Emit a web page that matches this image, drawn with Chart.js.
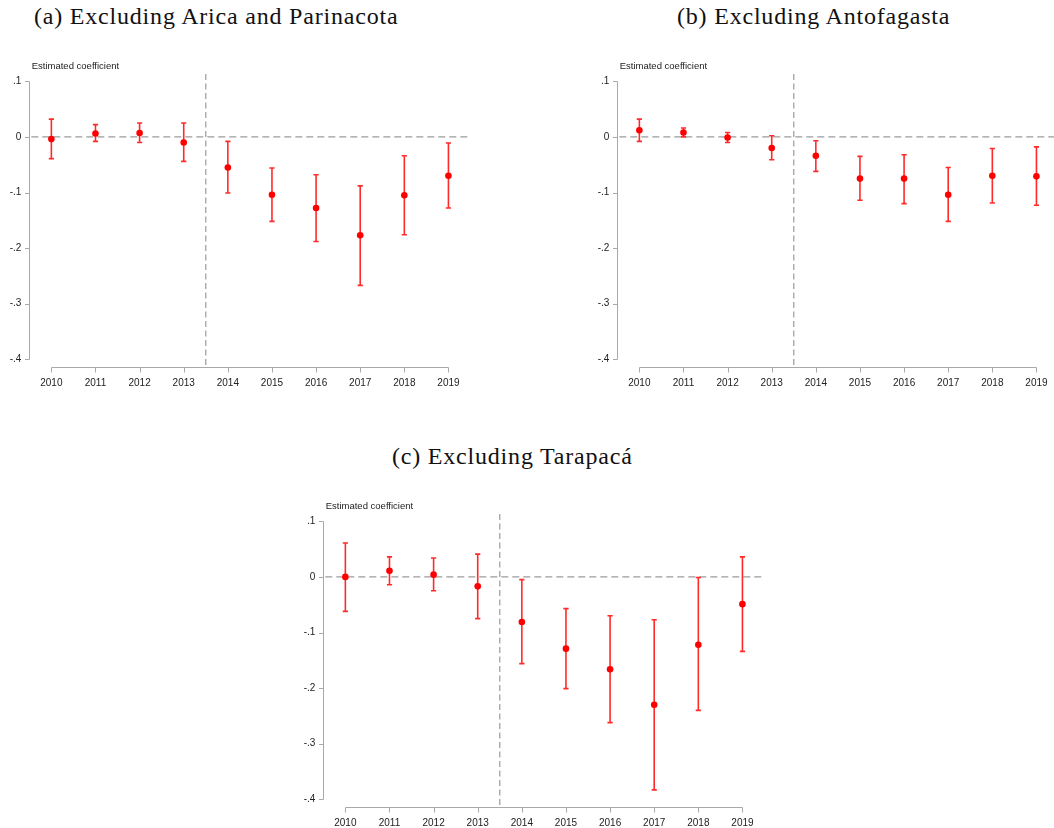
<!DOCTYPE html>
<html>
<head>
<meta charset="utf-8">
<script src="https://cdn.jsdelivr.net/npm/chart.js@4.4.1/dist/chart.umd.min.js"></script>
<style>
  html, body { margin: 0; padding: 0; background: #fff; overflow: hidden; width: 1054px; height: 828px; }
  .panel { position: absolute; width: 480px; height: 330px; }
  .title { position: absolute; font-family: "Liberation Serif", "Times New Roman", serif; font-size: 24px;
           letter-spacing: 0.8px; color: #111; white-space: nowrap; line-height: 24px; }
</style>
</head>
<body>
<div class="title" style="left:34px; top:4px;">(a) Excluding Arica and Parinacota</div>
<div class="title" style="left:677px; top:4px;">(b) Excluding Antofagasta</div>
<div class="title" style="left:392px; top:444px;">(c) Excluding Tarapacá</div>

<div class="panel" style="left:0px; top:60px;"><canvas id="chartA" width="480" height="330"></canvas></div>
<div class="panel" style="left:588px; top:60px;"><canvas id="chartB" width="480" height="330"></canvas></div>
<div class="panel" style="left:294px; top:500px;"><canvas id="chartC" width="480" height="330"></canvas></div>

<script>
// Event-study years and y-axis ticks
const years = [2010, 2011, 2012, 2013, 2014, 2015, 2016, 2017, 2018, 2019];
const yTicks = [0.1, 0, -0.1, -0.2, -0.3, -0.4];
const policyBreak = 2013.5;
const yAxisTitle = 'Estimated coefficient';

// (a) Excluding Arica and Parinacota
const coefA = [-0.004, 0.006, 0.007, -0.010, -0.055, -0.104, -0.128, -0.177, -0.105, -0.070];
const lowA  = [-0.039, -0.008, -0.010, -0.044, -0.101, -0.152, -0.188, -0.267, -0.176, -0.128];
const highA = [0.032, 0.022, 0.025, 0.025, -0.008, -0.056, -0.068, -0.088, -0.034, -0.011];

// (b) Excluding Antofagasta
const coefB = [0.012, 0.008, -0.001, -0.020, -0.034, -0.075, -0.075, -0.104, -0.070, -0.071];
const lowB  = [-0.008, 0.000, -0.010, -0.041, -0.062, -0.114, -0.120, -0.152, -0.119, -0.123];
const highB = [0.032, 0.016, 0.008, 0.002, -0.007, -0.035, -0.032, -0.055, -0.021, -0.018];

// (c) Excluding Tarapacá
const coefC = [0.000, 0.011, 0.004, -0.017, -0.081, -0.129, -0.166, -0.230, -0.122, -0.049];
const lowC  = [-0.062, -0.014, -0.025, -0.075, -0.156, -0.201, -0.262, -0.383, -0.240, -0.134];
const highC = [0.061, 0.036, 0.034, 0.041, -0.005, -0.057, -0.070, -0.077, -0.001, 0.036];

const AXIS_GRAY = '#a9a9a9';
const REF_GRAY = '#9c9c9c';
const RED = '#ff0000';

function fmtTick(v) {
  const n = Math.round(v * 10);
  if (n === 0) return '0';
  return (n < 0 ? '-' : '') + '.' + Math.abs(n);
}

// Draws the Stata-style detached axes, reference lines, CI whiskers and axis title
const stataPlot = {
  id: 'stataPlot',
  beforeDatasetsDraw(chart, args, opts) {
    const { ctx, chartArea: a, scales: { x, y } } = chart;
    ctx.save();

    // y axis line and ticks
    const ax = Math.round(a.left) + 0.5;
    const yTop = y.getPixelForValue(yTicks[0]);
    const yBot = y.getPixelForValue(yTicks[yTicks.length - 1]);
    ctx.strokeStyle = AXIS_GRAY;
    ctx.lineWidth = 1;
    ctx.setLineDash([]);
    ctx.beginPath();
    ctx.moveTo(ax, Math.round(yTop) + 0.5);
    ctx.lineTo(ax, Math.round(yBot) + 0.5);
    yTicks.forEach(v => {
      const py = Math.round(y.getPixelForValue(v)) + 0.5;
      ctx.moveTo(ax - 4.5, py);
      ctx.lineTo(ax, py);
    });
    ctx.stroke();

    // x axis line and ticks
    const ay = Math.round(a.bottom) + 0.5;
    const x0 = x.getPixelForValue(years[0]);
    const x1 = x.getPixelForValue(years[years.length - 1]);
    ctx.beginPath();
    ctx.moveTo(Math.round(x0) + 0.5, ay);
    ctx.lineTo(Math.round(x1) + 0.5, ay);
    years.forEach(v => {
      const px = Math.round(x.getPixelForValue(v)) + 0.5;
      ctx.moveTo(px, ay);
      ctx.lineTo(px, ay + 5);
    });
    ctx.stroke();

    // zero reference line
    ctx.strokeStyle = REF_GRAY;
    ctx.lineWidth = 1.2;
    ctx.setLineDash([7, 4]);
    const zy = y.getPixelForValue(0);
    ctx.beginPath();
    ctx.moveTo(a.left + 2, zy);
    ctx.lineTo(a.right, zy);
    ctx.stroke();

    // policy break line
    ctx.setLineDash([6, 3.5]);
    const bx = x.getPixelForValue(policyBreak);
    ctx.beginPath();
    ctx.moveTo(bx, a.top);
    ctx.lineTo(bx, a.bottom);
    ctx.stroke();

    // confidence intervals
    ctx.setLineDash([]);
    ctx.strokeStyle = 'rgba(255,20,20,0.9)';
    ctx.lineWidth = 1.6;
    years.forEach((yr, i) => {
      const px = x.getPixelForValue(yr);
      const pt = y.getPixelForValue(opts.high[i]);
      const pb = y.getPixelForValue(opts.low[i]);
      ctx.beginPath();
      ctx.moveTo(px, pt);
      ctx.lineTo(px, pb);
      ctx.moveTo(px - 2.6, pt);
      ctx.lineTo(px + 2.6, pt);
      ctx.moveTo(px - 2.6, pb);
      ctx.lineTo(px + 2.6, pb);
      ctx.stroke();
    });

    // axis title
    ctx.fillStyle = '#222';
    ctx.font = '9.5px "Liberation Sans", Arial, sans-serif';
    ctx.textBaseline = 'middle';
    ctx.textAlign = 'left';
    ctx.fillText(yAxisTitle, a.left + 2.4, 6);

    ctx.restore();
  }
};

function makeChart(id, coef, low, high) {
  return new Chart(document.getElementById(id), {
    type: 'scatter',
    data: {
      datasets: [{
        data: years.map((yr, i) => ({ x: yr, y: coef[i] })),
        pointRadius: 3.3,
        pointBorderWidth: 0,
        backgroundColor: RED,
        borderColor: RED,
        showLine: false
      }]
    },
    options: {
      responsive: false,
      animation: false,
      layout: { padding: { top: 14, right: 9.5, left: 0, bottom: 0 } },
      plugins: {
        legend: { display: false },
        tooltip: { enabled: false },
        stataPlot: { low, high }
      },
      scales: {
        x: {
          type: 'linear',
          min: 2009.5,
          max: 2019.5,
          afterBuildTicks: s => { s.ticks = years.map(v => ({ value: v })); },
          afterFit: s => { s.height = 23; },
          grid: { display: false, drawTicks: false },
          border: { display: false },
          ticks: {
            padding: 10,
            autoSkip: false,
            maxRotation: 0,
            color: '#222',
            font: { family: '"Liberation Sans", Arial, sans-serif', size: 10 },
            callback: v => String(v)
          }
        },
        y: {
          type: 'linear',
          min: -0.4138,
          max: 0.1131,
          afterBuildTicks: s => { s.ticks = yTicks.map(v => ({ value: v })); },
          afterFit: s => { s.width = 29.3; },
          grid: { display: false, drawTicks: false },
          border: { display: false },
          ticks: {
            padding: 8,
            color: '#222',
            font: { family: '"Liberation Sans", Arial, sans-serif', size: 10 },
            callback: v => fmtTick(v)
          }
        }
      }
    },
    plugins: [stataPlot]
  });
}

makeChart('chartA', coefA, lowA, highA);
makeChart('chartB', coefB, lowB, highB);
makeChart('chartC', coefC, lowC, highC);
</script>
</body>
</html>
